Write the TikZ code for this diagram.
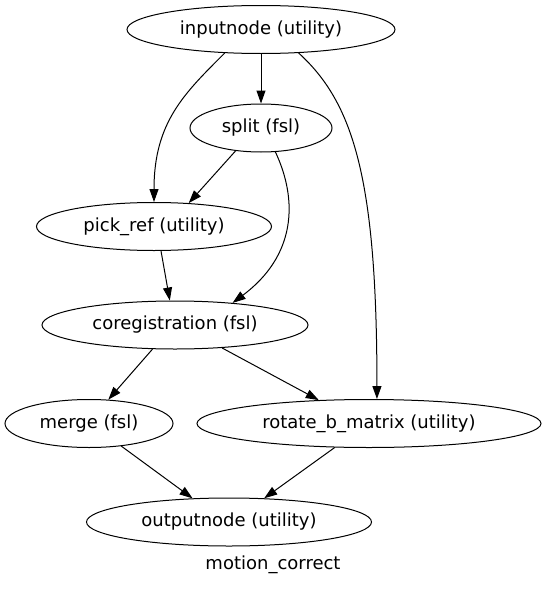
\documentclass[tikz,border=0pt]{standalone}
\usepackage{fontspec}
\setmainfont{DejaVu Sans}
\usetikzlibrary{shapes.geometric,arrows.meta}

\begin{document}
\begin{tikzpicture}[x=1pt, y=-1pt,
    every node/.style={font=\fontsize{18}{20}\selectfont},
    proc/.style={ellipse, draw, line width=1pt, inner sep=0pt, minimum height=48pt},
    edge/.style={line width=1pt, -{Triangle[length=13pt,width=9pt]}}]
  \useasboundingbox (0,0) rectangle (547,589);
  \node[proc, minimum width=268pt] (inputnode) at (261,29.5) {inputnode (utility)};
  \node[proc, minimum width=142pt] (split) at (261,128) {split (fsl)};
  \node[proc, minimum width=235pt] (pickref) at (154,226.5) {pick\_ref (utility)};
  \node[proc, minimum width=266pt] (coreg) at (175,325) {coregistration (fsl)};
  \node[proc, minimum width=168pt] (merge) at (89,423.5) {merge (fsl)};
  \node[proc, minimum width=344pt] (rotate) at (369,423.5) {rotate\_b\_matrix (utility)};
  \node[proc, minimum width=285pt] (outputnode) at (229,522) {outputnode (utility)};
  \node (title) at (273,565) {motion\_correct};

  \draw[edge] (inputnode.south) -- (split.north);
  \draw[edge] (inputnode.213) .. controls +(-40,40) and +(0,-80) .. (pickref.north);
  \draw[edge] (inputnode.328) .. controls +(55,50) and +(0,-220) .. (rotate.72);
  \draw[edge] (split.222) -- (pickref.34);
  \draw[edge] (split.301) .. controls +(23,49) and +(63,-47) .. (coreg.21);
  \draw[edge] (pickref.286) -- (coreg.102);
  \draw[edge] (coreg.227) -- (merge.51);
  \draw[edge] (coreg.334) -- (rotate.155);
  \draw[edge] (merge.325) -- (outputnode.147);
  \draw[edge] (rotate.215) -- (outputnode.34);
\end{tikzpicture}
\end{document}
